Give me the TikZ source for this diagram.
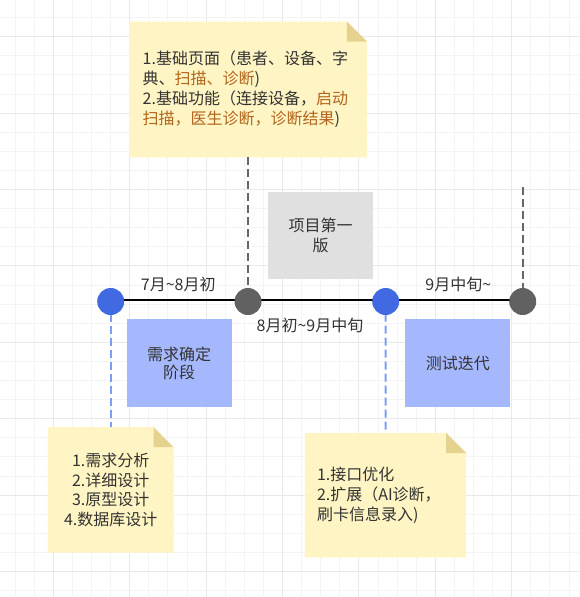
\documentclass[tikz,border=0pt]{standalone}
\usepackage{fontspec}
\setmainfont{Noto Sans CJK SC}
\pgfdeclarelayer{grid}
\pgfdeclarelayer{bg}
\pgfsetlayers{grid,bg,main}
\definecolor{txt}{HTML}{333333}
\definecolor{orng}{HTML}{B3641C}
\definecolor{notefill}{HTML}{FFF4C3}
\definecolor{notefold}{HTML}{E5D28E}
\definecolor{gridminor}{HTML}{F4F4F4}
\definecolor{gridmajor}{HTML}{E9E9E9}
\definecolor{dotblue}{HTML}{4169E1}
\definecolor{dotgray}{HTML}{616161}
\definecolor{boxblue}{HTML}{A5B8FE}
\definecolor{boxgray}{HTML}{E0E0E0}
\definecolor{lineblue}{HTML}{7F9CF5}
\definecolor{linegray}{HTML}{666666}
\newcommand{\tld}{\char"7E\relax}
\tikzset{
  every node/.style={text=txt, font=\fontsize{16}{20}\selectfont, inner sep=0pt},
  dot/.style={circle, minimum size=27pt, fill=#1},
  phasebox/.style={fill=boxblue, minimum width=105pt, minimum height=88pt, align=center},
  verbox/.style={fill=boxgray, minimum width=104.4pt, minimum height=87.3pt, align=center},
  gdash/.style={draw=linegray, line width=2pt, dash pattern=on 8pt off 4pt},
  bdash/.style={draw=lineblue, line width=2pt, dash pattern=on 8pt off 4pt},
  tline/.style={draw=black, line width=2pt},
  lbl/.style={}
}
\newcommand{\notefillpath}[1]{%
  \begin{pgfonlayer}{bg}
  \fill[notefill] (#1.north west) -- ([xshift=-20pt]#1.north east) -- ([yshift=-20pt]#1.north east) -- (#1.south east) -- (#1.south west) -- cycle;
  \fill[notefold] ([xshift=-20pt]#1.north east) -- ([xshift=-20pt,yshift=-20pt]#1.north east) -- ([yshift=-20pt]#1.north east) -- cycle;
  \end{pgfonlayer}}
\begin{document}
\begin{tikzpicture}[x=1pt,y=-1pt]
\useasboundingbox (0,0) rectangle (579,597);
% grid
\begin{pgfonlayer}{grid}
\fill[white] (0,0) rectangle (579,597);
\foreach \k in {0,...,29}{
  \pgfmathsetmacro{\gx}{15.1+19.1*\k}
  \draw[gridminor, line width=1pt] (\gx,0) -- (\gx,597);
}
\foreach \k in {0,...,30}{
  \pgfmathsetmacro{\gy}{17.6+19.1*\k}
  \draw[gridminor, line width=1pt] (0,\gy) -- (579,\gy);
}
\foreach \k in {0,...,7}{
  \pgfmathsetmacro{\gx}{53.3+76.4*\k}
  \draw[gridmajor, line width=1pt] (\gx,0) -- (\gx,597);
}
\foreach \k in {0,...,7}{
  \pgfmathsetmacro{\gy}{36.7+76.4*\k}
  \draw[gridmajor, line width=1pt] (0,\gy) -- (579,\gy);
}
\end{pgfonlayer}

% top note
\node[minimum height=135.3pt, text width=210.6pt, align=left, minimum width=237.4pt] (topnote) at (248,89.4)
  {1.基础页面（患者、设备、字\\
   典、\textcolor{orng}{扫描、诊断})\\
   2.基础功能（连接设备，\textcolor{orng}{启动}\\
   \textcolor{orng}{扫描，医生诊断，诊断结果})};
\notefillpath{topnote}

% version box
\node[verbox] (ver) at (320.5,235.3) {项目第一\\版};

% dots
\node[dot=dotblue] (c1) at (110.7,301.5) {};
\node[dot=dotgray] (c2) at (248,301.5) {};
\node[dot=dotblue] (c3) at (385.7,301.5) {};
\node[dot=dotgray] (c4) at (522.7,301.5) {};
\coordinate (top4) at (522.7,187);

% timeline
\begin{pgfonlayer}{bg}
\draw[tline] ([yshift=2pt]c1.center) -- ([yshift=2pt]c2.center);
\draw[tline] ([yshift=2pt]c2.center) -- ([yshift=2pt]c3.center);
\draw[tline] ([yshift=2pt]c3.center) -- ([yshift=2pt]c4.center);
\end{pgfonlayer}

% labels
\node[lbl] (l1) at (178.3,284) {7月\tld 8月初};
\node[lbl] (l2) at (310,325) {8月初\tld 9月中旬};
\node[lbl] (l3) at (458.3,284) {9月中旬\tld};

% phase boxes
\node[phasebox, font=\fontsize{16}{18.5}\selectfont] (p1) at (179.2,363.3) {需求确定\\阶段};
\node[phasebox] (p2) at (457.9,363.3) {测试迭代};

% bottom notes
\node[minimum width=125.3pt, minimum height=125pt, align=center, font=\fontsize{16}{19.5}\selectfont] (lnote) at (110.7,489.8)
  {1.需求分析\\2.详细设计\\3.原型设计\\4.数据库设计};
\notefillpath{lnote}
\node[minimum width=161pt, minimum height=123.7pt, text width=137pt, align=left] (rnote) at (385.5,495.2)
  {1.接口优化\\2.扩展（AI诊断，\\刷卡信息录入)};
\notefillpath{rnote}

% connectors
\begin{pgfonlayer}{bg}
\draw[gdash] (topnote.south) -- (c2.center);
\draw[gdash] (top4) -- (c4.center);
\draw[bdash] (c1.center) -- (lnote.north);
\draw[bdash] (c3.center) -- (rnote.north);
\end{pgfonlayer}
\end{tikzpicture}
\end{document}
